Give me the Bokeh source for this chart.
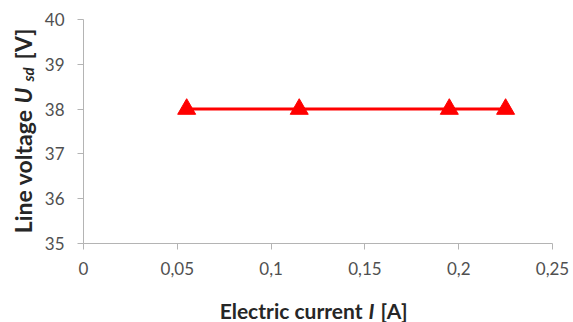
import math
from bokeh.plotting import figure
from bokeh.models import Range1d, FixedTicker, Label, LinearAxis
from bokeh.embed import file_html
from bokeh.resources import INLINE

# ---- data ----
current_a = [0.055, 0.115, 0.195, 0.225]
voltage_v = [38, 38, 38, 38]
x_ticks = [0, 0.05, 0.1, 0.15, 0.2, 0.25]
x_tick_labels = ["0", "0,05", "0,1", "0,15", "0,2", "0,25"]
y_ticks = [35, 36, 37, 38, 39, 40]
y_tick_labels = ["35", "36", "37", "38", "39", "40"]

W, H = 573, 322
FL, FR, FT, FB = 83, 552, 19, 243   # plot-area edges in px
X0, X1 = 0, 0.25
Y0, Y1 = 35, 40

def dx(px):
    return X0 + (px - FL) / (FR - FL) * (X1 - X0)

def dy(py):
    return Y0 + (FB - py) / (FB - FT) * (Y1 - Y0)

# frame covers the whole canvas; axes are pinned at the plot-area edges
p = figure(width=W, height=H, output_backend="svg", toolbar_location=None,
           x_range=Range1d(dx(0), dx(W)), y_range=Range1d(dy(H), dy(0)),
           x_axis_type=None, y_axis_type=None, min_border=0)
p.outline_line_color = None
p.background_fill_color = "white"
p.border_fill_color = "white"
p.grid.visible = False

FONT = "Lato"
AX = "#b4b4b4"
TXT = "#505050"
xaxis = LinearAxis(fixed_location=Y0, bounds=(X0, X1),
                   ticker=FixedTicker(ticks=x_ticks),
                   major_label_overrides={t: l for t, l in zip(x_ticks, x_tick_labels)},
                   major_label_standoff=12)
yaxis = LinearAxis(fixed_location=X0, bounds=(Y0, Y1),
                   ticker=FixedTicker(ticks=y_ticks),
                   major_label_overrides={t: l for t, l in zip(y_ticks, y_tick_labels)},
                   major_label_standoff=13)
for ax in (xaxis, yaxis):
    ax.axis_line_color = AX
    ax.major_tick_line_color = AX
    ax.minor_tick_line_color = None
    ax.major_tick_in = 0
    ax.major_tick_out = 6
    ax.major_label_text_font = FONT
    ax.major_label_text_font_size = "17px"
    ax.major_label_text_color = TXT
p.add_layout(xaxis, "below")
p.add_layout(yaxis, "left")

p.line(current_a, voltage_v, line_color="#ff0000", line_width=3)
p.scatter(current_a, voltage_v, marker="triangle", size=18,
          fill_color="#ff0000", line_color="#ff0000")

LAB = "#262626"
FIX = 7  # Label box sits below its anchor by about this much
def lab(text, px, py, align, size="21px", style="bold", angle=0.0):
    if angle:
        px -= FIX
    else:
        py -= FIX
    p.add_layout(Label(x=dx(px), y=dy(py), text=text, text_font=FONT,
                       text_font_size=size, text_font_style=style,
                       text_color=LAB, text_align=align,
                       text_baseline="alphabetic", angle=angle))

# x axis title: Electric current I [A]
lab("Electric current", 362, 317, "right")
lab("I", 371, 317, "center", style="bold italic")
lab("[A]", 380, 317, "left")

# y axis title: Line voltage U_sd [V] (rotated)
A = math.pi / 2
lab("Line voltage", 29, 109, "right", size="23px", angle=A)
lab("U", 29, 103, "left", size="23px", style="bold italic", angle=A)
lab("sd", 34, 81, "left", size="15px", style="bold italic", angle=A)
lab("[V]", 29, 59, "left", size="23px", angle=A)

open("out.html", "w").write(file_html(p, INLINE))
